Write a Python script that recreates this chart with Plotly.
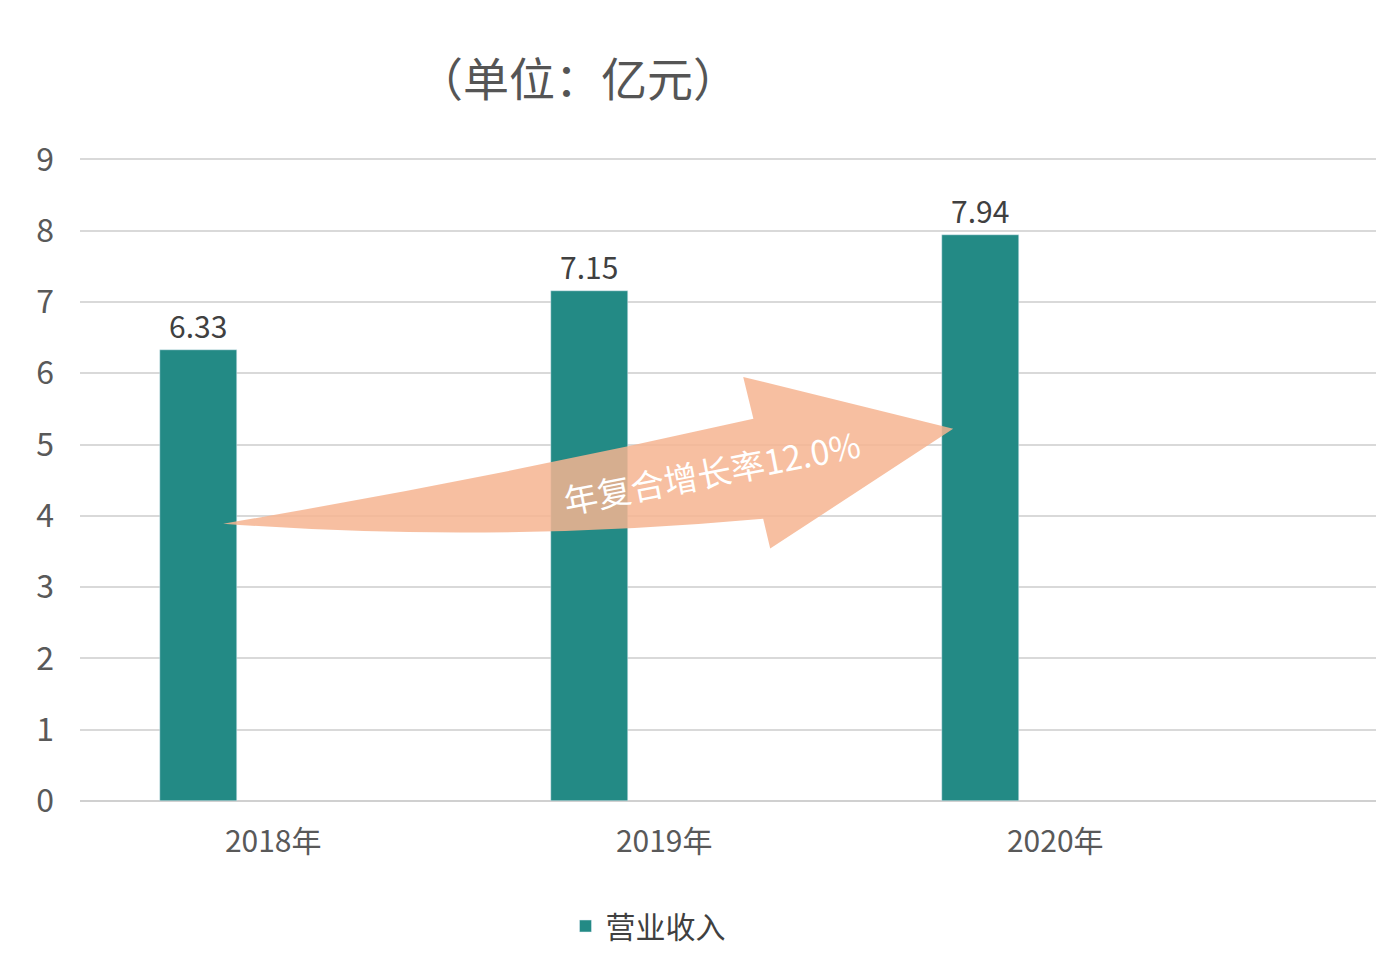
import plotly.graph_objects as go

categories = ["2018年", "2019年", "2020年"]
revenue = [6.33, 7.15, 7.94]
labels = ["6.33", "7.15", "7.94"]

F = "Noto Sans CJK SC"
fig = go.Figure()
fig.add_bar(x=[0, 1, 2], y=revenue, text=labels, textposition="outside",
            textfont=dict(size=30, color="#404040", family=F),
            marker_color="#238a85", offset=-0.29, width=0.197, name="营业收入",
            cliponaxis=False)

path = ("M -0.128 3.89 Q 0.55 4.52 1.228 5.361 L 1.202 5.949 L 1.739 5.221 "
        "L 1.271 3.541 L 1.253 3.961 Q 0.55 3.611 -0.128 3.89 Z")
fig.add_shape(type="path", path=path, xref="x", yref="y",
              fillcolor="rgba(246,180,145,0.85)", line=dict(width=0))
fig.add_annotation(x=1.12, y=4.62, xref="x", yref="y", text="年复合增长率12.0%",
                   showarrow=False, textangle=-11,
                   font=dict(size=34, color="white", family=F))
fig.add_annotation(xref="paper", yref="paper", x=(570-72)/1310, y=(793-68)/643,
                   xanchor="center", yanchor="middle", text="（单位：亿元）",
                   showarrow=False, font=dict(size=46, color="#555555", family=F))

fig.update_layout(
    width=1384, height=956, plot_bgcolor="white", paper_bgcolor="white",
    margin=dict(l=72, r=2, t=150, b=163), bargap=0,
    font=dict(family=F, color="#595959"),
    showlegend=True,
    legend=dict(orientation="h", x=(640-72)/1310, xanchor="center",
                y=(793-918)/643, yanchor="middle", font=dict(size=30, color="#404040")),
    xaxis=dict(range=[-0.494, 2.856], tickvals=[0, 1, 2], ticktext=categories,
               tickfont=dict(size=30), showgrid=False, zeroline=False,
               showline=False, ticks="", automargin=False, ticklabelstandoff=20),
    yaxis=dict(range=[0, 9.02], dtick=1, tickfont=dict(size=32), gridcolor="#d9d9d9",
               gridwidth=1.5, zeroline=True, zerolinecolor="#d0d0d0", zerolinewidth=2,
               ticklabelstandoff=25, automargin=False),
)
fig.write_html("out.html")
